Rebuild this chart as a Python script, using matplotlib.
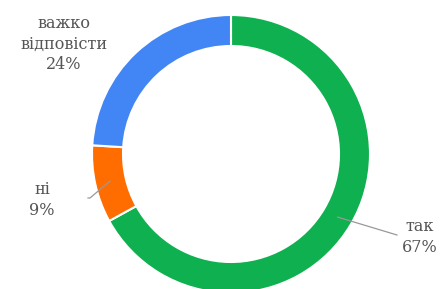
import numpy as np
import matplotlib.pyplot as plt

labels = ["так", "ні", "важко\nвідповісти"]
values = [67, 9, 24]
colors = ["#0fb04f", "#ff6d01", "#4285f4"]

fig = plt.figure(figsize=(4.4, 2.89), dpi=100)
ax = fig.add_axes([0, 0, 1, 1])

cx, cy, R = 231, 135, 139
wedges, _ = ax.pie(values, colors=colors, startangle=90, counterclock=False,
                   center=(cx, cy), radius=R, frame=True,
                   wedgeprops=dict(width=31, edgecolor="white", linewidth=1.5))
ax.set_xlim(0, 440)
ax.set_ylim(0, 289)
ax.set_aspect("equal")
ax.axis("off")

font = dict(family="DejaVu Serif", fontsize=11.5, color="#555555",
            ha="center", va="center", linespacing=1.3)

# label anchor positions (text) and leader end points
text_pos = [(420, 52), (42, 89), (64, 245)]
leader_end = [(397, 54), (88, 91), None]

for w, lab, v, tp, le in zip(wedges, labels, values, text_pos, leader_end):
    ax.text(tp[0], tp[1], f"{lab}\n{v}%", **font)
    if le is not None:
        mid = np.deg2rad((w.theta1 + w.theta2) / 2)
        r = R - 15
        x0, y0 = cx + r * np.cos(mid), cy + r * np.sin(mid)
        if le[0] < cx:
            ax.plot([x0, le[0] + 2, le[0]], [y0, le[1], le[1]], color="#999999", lw=0.9)
        else:
            ax.plot([x0, le[0]], [y0, le[1]], color="#999999", lw=0.9)

fig.savefig("out.png", dpi=100)
